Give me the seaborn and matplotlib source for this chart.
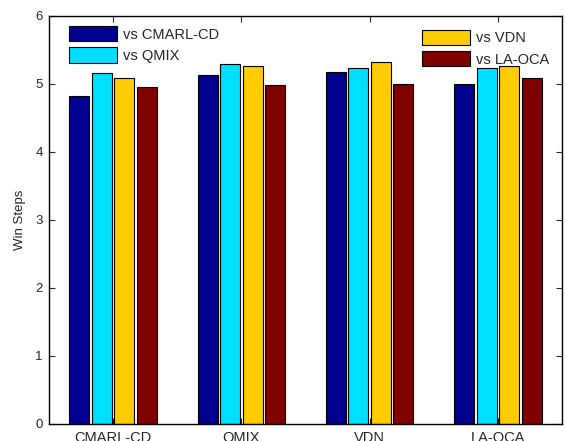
import matplotlib.pyplot as plt
import pandas as pd
import seaborn as sns

# Values
methods = ["CMARL-CD", "QMIX", "VDN", "LA-OCA"]
opponents = ["vs CMARL-CD", "vs QMIX", "vs VDN", "vs LA-OCA"]
vs_cmarl_cd = [4.83, 5.13, 5.18, 5.00]
vs_qmix = [5.16, 5.29, 5.23, 5.23]
vs_vdn = [5.09, 5.26, 5.32, 5.26]
vs_la_oca = [4.95, 4.98, 5.00, 5.09]
yticks = [0, 1, 2, 3, 4, 5, 6]

colors = ["#00008F", "#00DFFF", "#FFCC00", "#800000"]

df = pd.DataFrame(
    {
        "Method": methods,
        opponents[0]: vs_cmarl_cd,
        opponents[1]: vs_qmix,
        opponents[2]: vs_vdn,
        opponents[3]: vs_la_oca,
    }
).melt(id_vars="Method", var_name="Opponent", value_name="Win Steps")

sns.set_style("white")
plt.rcParams["font.family"] = ["Liberation Sans", "DejaVu Sans"]

fig = plt.figure(figsize=(5.66, 4.41), dpi=100)
ax = fig.add_axes([49 / 566, 1 - 424 / 441, 513 / 566, 408 / 441])

sns.barplot(
    data=df,
    x="Method",
    y="Win Steps",
    hue="Opponent",
    palette=colors,
    width=0.7,
    gap=0.11,
    edgecolor="black",
    linewidth=0.8,
    saturation=1,
    legend=False,
    ax=ax,
)

ax.set(xlim=(-0.5, 3.5), ylim=(0, 6), yticks=yticks, xlabel="")
ax.set_ylabel("Win Steps", fontsize=9.5, labelpad=7)
ax.tick_params(axis="x", direction="in", length=4.5, top=True, bottom=True,
               labelsize=10.5, pad=5, width=0.8)
ax.tick_params(axis="y", direction="in", length=4.5, left=True, right=True,
               labelsize=9.5, pad=4.5, width=0.8)
for s in ax.spines.values():
    s.set_visible(True)
    s.set_color("black")
    s.set_linewidth(1)

handles = list(ax.containers)
leg_kw = dict(
    frameon=False,
    fontsize=10.5,
    handlelength=3.3,
    handleheight=1.25,
    labelspacing=0.38,
    handletextpad=0.4,
    borderpad=0,
    borderaxespad=0,
    loc="upper left",
)
leg1 = ax.legend(handles[:2], opponents[:2], bbox_to_anchor=(0.039, 0.9755), **leg_kw)
ax.add_artist(leg1)
ax.legend(handles[2:], opponents[2:], bbox_to_anchor=(0.727, 0.966), **leg_kw)

fig.savefig("out.png", dpi=100)
